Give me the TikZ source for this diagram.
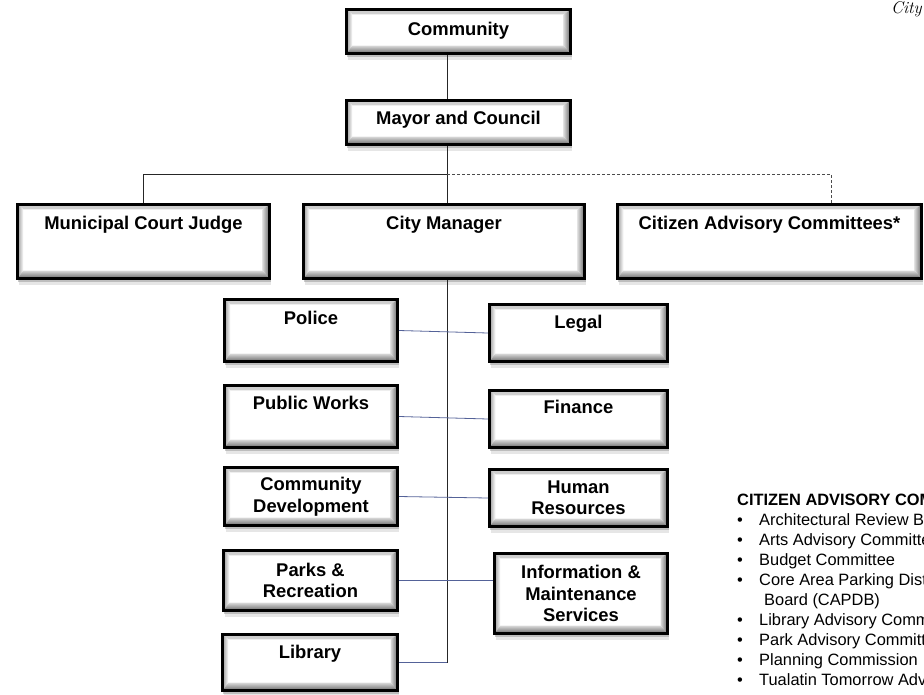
\documentclass[tikz,border=0pt]{standalone}
\usepackage{fontspec}
\setsansfont{Liberation Sans}
\usetikzlibrary{shadows}
\definecolor{linkblue}{RGB}{84,98,152}
\tikzset{
  bevel/.style={path picture={
    \shade[top color=black!20, bottom color=white]
      (path picture bounding box.north west) -- ([shift={(6pt,-5pt)}]path picture bounding box.north west)
      -- ([shift={(-7pt,-5pt)}]path picture bounding box.north east) -- (path picture bounding box.north east) -- cycle;
    \shade[left color=black!40, right color=white]
      (path picture bounding box.north west) -- ([shift={(6pt,-5pt)}]path picture bounding box.north west)
      -- ([shift={(6pt,8pt)}]path picture bounding box.south west) -- (path picture bounding box.south west) -- cycle;
    \shade[top color=black!15, bottom color=black!60]
      (path picture bounding box.south west) -- ([shift={(6pt,8pt)}]path picture bounding box.south west)
      -- ([shift={(-7pt,8pt)}]path picture bounding box.south east) -- (path picture bounding box.south east) -- cycle;
    \shade[left color=black!15, right color=black!60]
      (path picture bounding box.south east) -- ([shift={(-7pt,8pt)}]path picture bounding box.south east)
      -- ([shift={(-7pt,-5pt)}]path picture bounding box.north east) -- (path picture bounding box.north east) -- cycle;
  }}
}
\begin{document}
\begin{tikzpicture}
  [x=1pt, y=-1pt,
   box/.style={draw, line width=2.8pt, fill=white, inner xsep=4pt, inner ysep=0pt,
     font=\sffamily\bfseries\fontsize{18.4}{21.5}\selectfont, align=center,
     drop shadow={shadow xshift=1pt, shadow yshift=-3pt, opacity=.4},
     drop shadow={shadow xshift=1.5pt, shadow yshift=-6pt, opacity=.2},
     bevel},
   toptext/.style={text height=13pt, text depth=#1},
   link/.style={line width=0.8pt, black!85},
   deptlink/.style={line width=0.8pt, linkblue},
   dashlink/.style={line width=0.8pt, black!70, dash pattern=on 3pt off 2pt},
   listtext/.style={font=\sffamily\fontsize{16.4}{20}\selectfont, align=left, inner sep=0pt}]

  \useasboundingbox (0,0) rectangle (924,694);
  \clip (0,0) rectangle (924,694);

  % Top of the chart
  \node[box, minimum width=224.2pt, minimum height=44.2pt, toptext=5pt] (comm) at (458.5,31.5) {Community};
  \node[box, minimum width=224.2pt, minimum height=44.2pt, toptext=9pt] (mayor) at (458.5,122.5) {Mayor and Council};

  % Second level
  \node[box, minimum width=252.2pt, minimum height=74.2pt, toptext=37pt] (judge) at (143.5,241.5) {Municipal Court Judge};
  \node[box, minimum width=281.2pt, minimum height=74.2pt, toptext=37pt] (cm) at (444,241.5) {City Manager};
  \node[box, minimum width=304.2pt, minimum height=74.2pt, toptext=37pt] (cac) at (769.5,241.5) {Citizen Advisory Committees*};

  % Departments, left column
  \node[box, minimum width=173.2pt, minimum height=62.2pt, toptext=25pt] (police) at (311,330.5) {Police};
  \node[box, minimum width=173.2pt, minimum height=62.2pt, toptext=27pt] (pw) at (311,416.5) {Public Works};
  \node[box, minimum width=173.2pt, minimum height=58.2pt] (cd) at (311,496.5) {Community\\Development};
  \node[box, minimum width=174.2pt, minimum height=60.2pt] (parks) at (310.5,580.5) {Parks \&\\Recreation};
  \node[box, minimum width=175.2pt, minimum height=56.2pt, toptext=21pt] (lib) at (310,662.5) {Library};

  % Departments, right column
  \node[box, minimum width=178.2pt, minimum height=57.2pt, toptext=22pt] (legal) at (578.5,333) {Legal};
  \node[box, minimum width=178.2pt, minimum height=57.2pt, toptext=24pt] (finance) at (578.5,419) {Finance};
  \node[box, minimum width=178.2pt, minimum height=57.2pt] (hr) at (578.5,498) {Human\\Resources};
  \node[box, minimum width=173.2pt, minimum height=80.2pt] (info) at (581,593.5) {Information \&\\Maintenance\\Services};

  % Connectors
  \coordinate (spine) at (447,0);
  \coordinate (junc) at (447,174);
  \coordinate (cacdrop) at (831,174);
  \draw[link] (comm.south -| spine) -- (mayor.north -| spine);
  \draw[link] (mayor.south -| spine) -- (cm.north -| spine);
  \draw[link] (junc) -| (judge.north);
  \draw[dashlink] (junc) -- (cacdrop) -- (cacdrop |- cac.north);
  \draw[link] (cm.south -| spine) -- (lib.east -| spine);
  \draw[deptlink] (lib.east) -- (lib.east -| spine);
  \draw[deptlink] (police.east) -- (legal.west);
  \draw[deptlink] (pw.east) -- (finance.west);
  \draw[deptlink] (cd.east) -- (hr.west);
  \draw[deptlink] (parks.east) -- (parks.east -| info.west);

  % Committee list and page title
  \node[listtext, anchor=north west] (cactext) at (737,494)
    {\textbf{CITIZEN ADVISORY COMMITTEES}\\
     \makebox[22pt][l]{\textbullet}Architectural Review Board\\
     \makebox[22pt][l]{\textbullet}Arts Advisory Committee\\
     \makebox[22pt][l]{\textbullet}Budget Committee\\
     \makebox[22pt][l]{\textbullet}Core Area Parking District\\
     \hspace*{27pt}Board (CAPDB)\\
     \makebox[22pt][l]{\textbullet}Library Advisory Committee\\
     \makebox[22pt][l]{\textbullet}Park Advisory Committee\\
     \makebox[22pt][l]{\textbullet}Planning Commission\\
     \makebox[22pt][l]{\textbullet}Tualatin Tomorrow Advisory Committee};
  \node[anchor=base west, inner sep=0pt, font=\itshape\fontsize{17}{19}\selectfont] (cityname) at (891,13) {City};
\end{tikzpicture}
\end{document}
